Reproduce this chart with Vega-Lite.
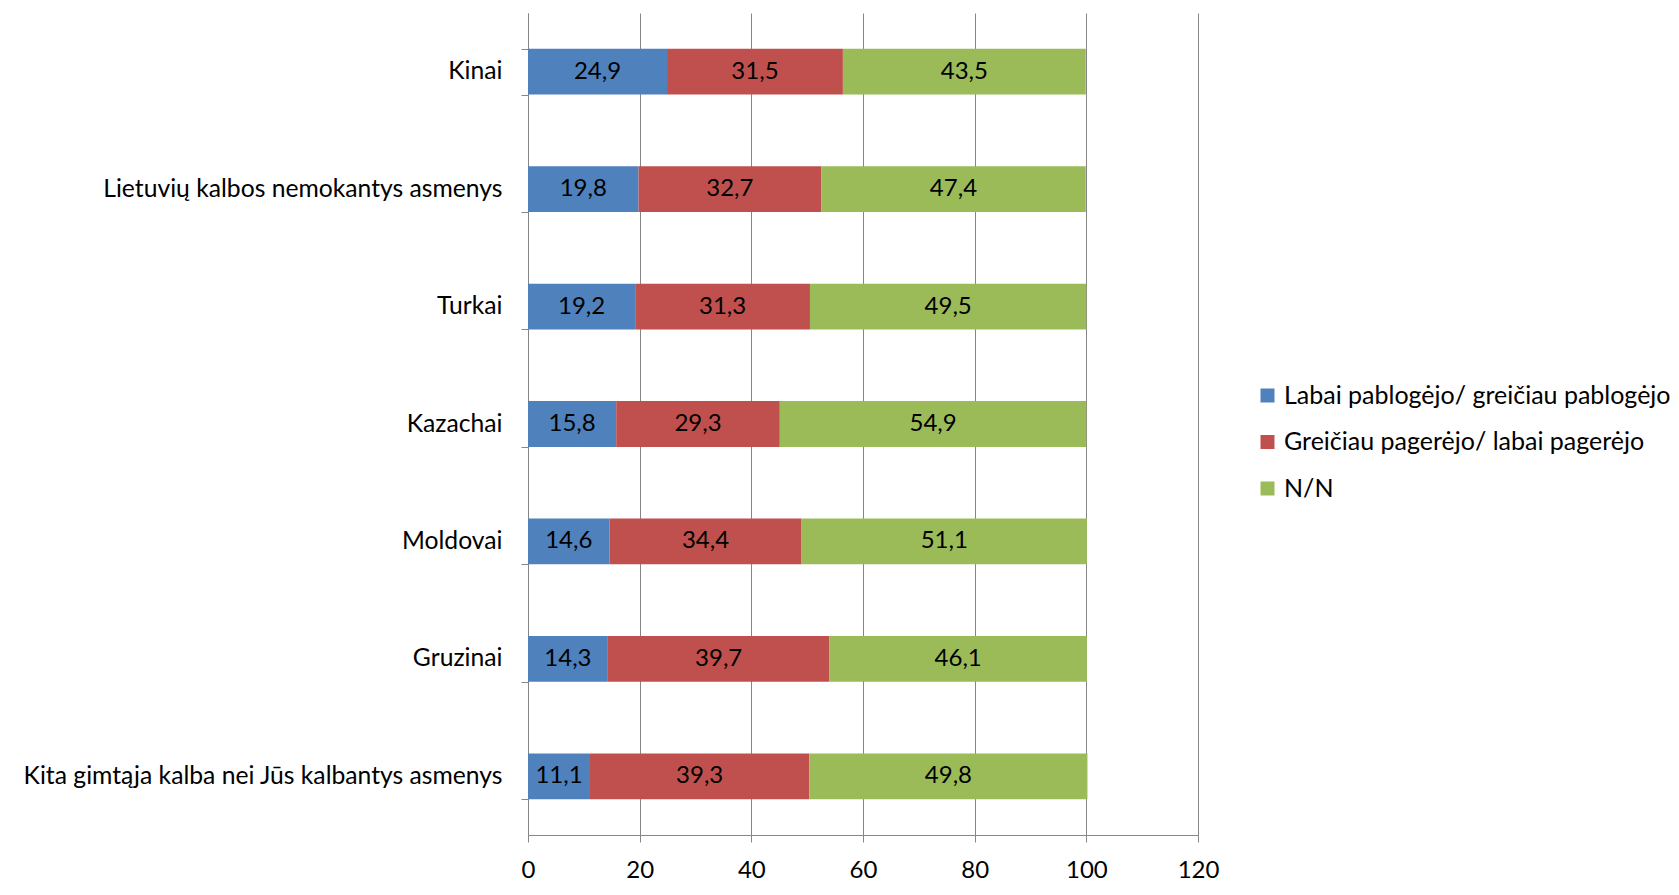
{
  "$schema": "https://vega.github.io/schema/vega-lite/v6.json",
  "width": 670,
  "height": 822,
  "autosize": {"type": "none"},
  "padding": {"left": 528, "top": 13, "right": 481, "bottom": 60},
  "background": "white",
  "config": {
    "locale": {"number": {"decimal": ",", "thousands": " ", "grouping": [3], "currency": ["", ""]}},
    "view": {"stroke": null},
    "font": "Lato"
  },
  "data": {
    "values": [
      {"group": "Kinai", "cat": "Labai pablogėjo/ greičiau pablogėjo", "ord": 1, "v": 24.9},
      {"group": "Kinai", "cat": "Greičiau pagerėjo/ labai pagerėjo", "ord": 2, "v": 31.5},
      {"group": "Kinai", "cat": "N/N", "ord": 3, "v": 43.5},
      {"group": "Lietuvių kalbos nemokantys asmenys", "cat": "Labai pablogėjo/ greičiau pablogėjo", "ord": 1, "v": 19.8},
      {"group": "Lietuvių kalbos nemokantys asmenys", "cat": "Greičiau pagerėjo/ labai pagerėjo", "ord": 2, "v": 32.7},
      {"group": "Lietuvių kalbos nemokantys asmenys", "cat": "N/N", "ord": 3, "v": 47.4},
      {"group": "Turkai", "cat": "Labai pablogėjo/ greičiau pablogėjo", "ord": 1, "v": 19.2},
      {"group": "Turkai", "cat": "Greičiau pagerėjo/ labai pagerėjo", "ord": 2, "v": 31.3},
      {"group": "Turkai", "cat": "N/N", "ord": 3, "v": 49.5},
      {"group": "Kazachai", "cat": "Labai pablogėjo/ greičiau pablogėjo", "ord": 1, "v": 15.8},
      {"group": "Kazachai", "cat": "Greičiau pagerėjo/ labai pagerėjo", "ord": 2, "v": 29.3},
      {"group": "Kazachai", "cat": "N/N", "ord": 3, "v": 54.9},
      {"group": "Moldovai", "cat": "Labai pablogėjo/ greičiau pablogėjo", "ord": 1, "v": 14.6},
      {"group": "Moldovai", "cat": "Greičiau pagerėjo/ labai pagerėjo", "ord": 2, "v": 34.4},
      {"group": "Moldovai", "cat": "N/N", "ord": 3, "v": 51.1},
      {"group": "Gruzinai", "cat": "Labai pablogėjo/ greičiau pablogėjo", "ord": 1, "v": 14.3},
      {"group": "Gruzinai", "cat": "Greičiau pagerėjo/ labai pagerėjo", "ord": 2, "v": 39.7},
      {"group": "Gruzinai", "cat": "N/N", "ord": 3, "v": 46.1},
      {"group": "Kita gimtąja kalba nei Jūs kalbantys asmenys", "cat": "Labai pablogėjo/ greičiau pablogėjo", "ord": 1, "v": 11.1},
      {"group": "Kita gimtąja kalba nei Jūs kalbantys asmenys", "cat": "Greičiau pagerėjo/ labai pagerėjo", "ord": 2, "v": 39.3},
      {"group": "Kita gimtąja kalba nei Jūs kalbantys asmenys", "cat": "N/N", "ord": 3, "v": 49.8}
    ]
  },
  "transform": [
    {"stack": "v", "groupby": ["group"], "sort": [{"field": "ord", "order": "ascending"}], "as": ["v0", "v1"]},
    {"calculate": "(datum.v0 + datum.v1) / 2", "as": "mid"}
  ],
  "encoding": {
    "y": {
      "field": "group",
      "type": "nominal",
      "sort": ["Kinai", "Lietuvių kalbos nemokantys asmenys", "Turkai", "Kazachai", "Moldovai", "Gruzinai", "Kita gimtąja kalba nei Jūs kalbantys asmenys"],
      "scale": {"paddingInner": 0.61, "paddingOuter": 0.305},
      "axis": {
        "title": null,
        "tickBand": "extent",
        "domainColor": "#868686",
        "tickColor": "#868686",
        "tickSize": 7,
        "labelPadding": 19,
        "labelFontSize": 24.7,
        "labelColor": "#000000",
        "labelLimit": 0,
        "grid": false
      }
    }
  },
  "layer": [
    {
      "mark": {"type": "bar"},
      "encoding": {
        "x": {
          "field": "v0",
          "type": "quantitative",
          "scale": {"domain": [0, 120], "nice": false},
          "axis": {
            "title": null,
            "values": [0, 20, 40, 60, 80, 100, 120],
            "format": "d",
            "grid": true,
            "gridColor": "#868686",
            "domainColor": "#868686",
            "tickColor": "#868686",
            "tickSize": 7,
            "labelPadding": 16,
            "labelFontSize": 24,
            "labelFlush": false,
            "labelColor": "#000000"
          }
        },
        "x2": {"field": "v1"},
        "color": {
          "field": "cat",
          "type": "nominal",
          "sort": ["Labai pablogėjo/ greičiau pablogėjo", "Greičiau pagerėjo/ labai pagerėjo", "N/N"],
          "scale": {
            "domain": ["Labai pablogėjo/ greičiau pablogėjo", "Greičiau pagerėjo/ labai pagerėjo", "N/N"],
            "range": ["#4F81BD", "#C0504D", "#9BBB59"]
          },
          "legend": {
            "title": null,
            "orient": "none",
            "legendX": 727,
            "legendY": 370,
            "padding": 0,
            "symbolType": "square",
            "symbolSize": 196,
            "symbolStrokeWidth": 0,
            "labelFontSize": 25,
            "labelColor": "#000000",
            "labelOffset": 4,
            "rowPadding": 20.5,
            "labelLimit": 500
          }
        }
      }
    },
    {
      "mark": {"type": "text", "fontSize": 24, "color": "#000000", "align": "center", "baseline": "middle"},
      "encoding": {
        "x": {"field": "mid", "type": "quantitative"},
        "text": {"field": "v", "type": "quantitative", "format": ".1f"}
      }
    }
  ]
}
